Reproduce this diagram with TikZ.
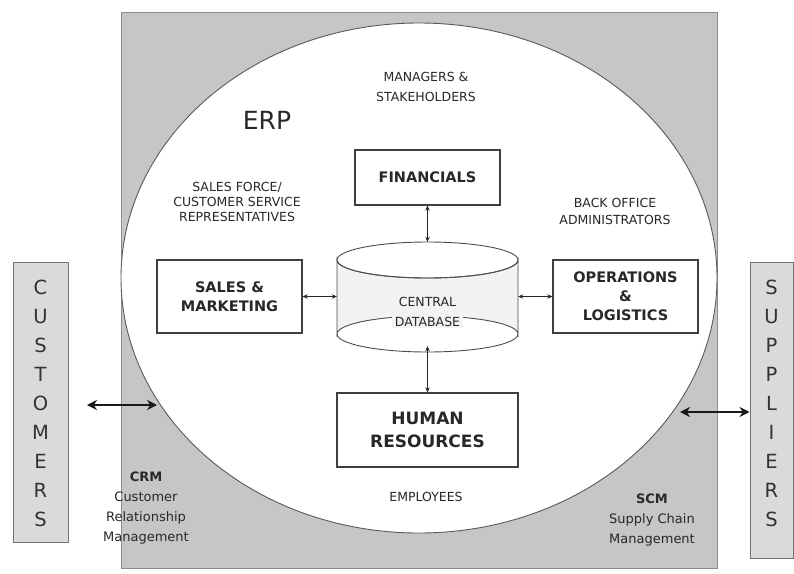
\documentclass[tikz,border=0pt]{standalone}
\usepackage{fontspec}
\setmainfont{DejaVu Sans}
\usetikzlibrary{arrows.meta,shapes.geometric}
\definecolor{regiongray}{RGB}{198,198,198}
\definecolor{sidegray}{RGB}{218,218,218}
\definecolor{dbfill}{RGB}{242,242,242}
\definecolor{ink}{RGB}{40,40,40}
\begin{document}
\begin{tikzpicture}[x=1pt,y=-1pt,
  every node/.style={inner sep=0pt, text=ink},
  modbox/.style={draw=black!75, line width=1.2pt, fill=white, rectangle},
  modtext/.style={font=\bfseries\fontsize{14.5}{19}\selectfont, align=center},
  role/.style={font=\fontsize{12.5}{16}\selectfont, align=center},
  sidebox/.style={draw=black!55, line width=1pt, fill=sidegray, rectangle},
  sideletters/.style={font=\fontsize{19.5}{29}\selectfont, align=center, text=black!80},
  linkarrow/.style={{Stealth[length=5pt,width=4.5pt]}-{Stealth[length=5pt,width=4.5pt]}, line width=0.9pt, draw=black!85},
  bigarrow/.style={{Stealth[length=10pt,width=10pt]}-{Stealth[length=10pt,width=10pt]}, line width=2.2pt, draw=black!90},
  sysname/.style={font=\fontsize{13}{19.7}\selectfont, align=center}
]
\useasboundingbox (0,0) rectangle (794,573);

% background region and ERP ellipse
\node[rectangle, draw=black!45, line width=1pt, fill=regiongray, minimum width=596, minimum height=556] (region) at (419,290) {};
\node[ellipse, draw=black!65, line width=0.9pt, fill=white, minimum width=596, minimum height=510] (erp) at (419,278) {};

% side boxes
\node[sidebox, minimum width=55, minimum height=280] (cust) at (40.5,402) {};
\node[sideletters] (custtxt) at (40.5,403.5) {C\\U\\S\\T\\O\\M\\E\\R\\S};
\node[sidebox, minimum width=43, minimum height=296] (sup) at (771.5,410) {};
\node[sideletters] (suptxt) at (771.5,403.5) {S\\U\\P\\P\\L\\I\\E\\R\\S};

% labels
\node[font=\fontsize{25}{30}\selectfont] (erplabel) at (267,120) {ERP};
\node[role, font=\fontsize{12.5}{20}\selectfont] (managers) at (426,87) {MANAGERS \&\\STAKEHOLDERS};
\node[role, font=\fontsize{12.5}{15}\selectfont] (salesforce) at (237,202) {SALES FORCE/\\CUSTOMER SERVICE\\REPRESENTATIVES};
\node[role, font=\fontsize{12.5}{17}\selectfont] (backoffice) at (615,211.5) {BACK OFFICE\\ADMINISTRATORS};
\node[role] (employees) at (426,497) {EMPLOYEES};

% modules
\node[modbox, minimum width=145, minimum height=55] (fin) at (427.5,177.5) {};
\node[modtext] (fintxt) at (fin) {FINANCIALS};
\node[modbox, minimum width=145, minimum height=73] (sales) at (229.5,296.5) {};
\node[modtext] (salestxt) at (sales) {SALES \&\\MARKETING};
\node[modbox, minimum width=145, minimum height=73] (ops) at (625.5,296.5) {};
\node[modtext] (opstxt) at (ops) {OPERATIONS\\\&\\LOGISTICS};
\node[modbox, minimum width=181, minimum height=74] (hr) at (427.5,430) {};
\node[modtext, font=\bfseries\fontsize{17}{23}\selectfont] (hrtxt) at (hr) {HUMAN\\RESOURCES};

% central database cylinder
\node[rectangle, minimum width=181, minimum height=110] (db) at (427.5,297) {};
\draw[draw=black!70, line width=0.9pt, fill=dbfill]
  (337,260) -- (337,334) arc[start angle=180, end angle=360, x radius=90.5, y radius=18]
  -- (518,260) arc[start angle=0, end angle=180, x radius=90.5, y radius=18] -- cycle;
\draw[draw=black!70, line width=0.9pt] (427.5,260) ellipse[x radius=90.5, y radius=18];
\draw[draw=black!70, line width=0.9pt] (337,334) arc[start angle=180, end angle=0, x radius=90.5, y radius=18];
\node[font=\fontsize{12.5}{20}\selectfont, align=center, fill=dbfill, inner xsep=3pt, inner ysep=1pt] (dbtxt) at (427.5,312) {CENTRAL\\DATABASE};

% links
\draw[linkarrow] (sales.east) -- (db.west |- sales.east);
\draw[linkarrow] (db.east |- ops.west) -- (ops.west);
\draw[linkarrow] (fin.south) -- (db.north);
\draw[linkarrow] ([yshift=6pt]db.south) -- (hr.north);

% CRM / SCM
\coordinate (crmA) at (87,405);
\coordinate (crmB) at (157,405);
\draw[bigarrow] (crmA) -- (crmB);
\coordinate (scmA) at (680,412);
\draw[bigarrow] (scmA) -- (sup.west |- scmA);
\node[sysname] (crm) at (146,508) {\textbf{CRM}\\Customer\\Relationship\\Management};
\node[sysname] (scm) at (652,520) {\textbf{SCM}\\Supply Chain\\Management};
\end{tikzpicture}
\end{document}
